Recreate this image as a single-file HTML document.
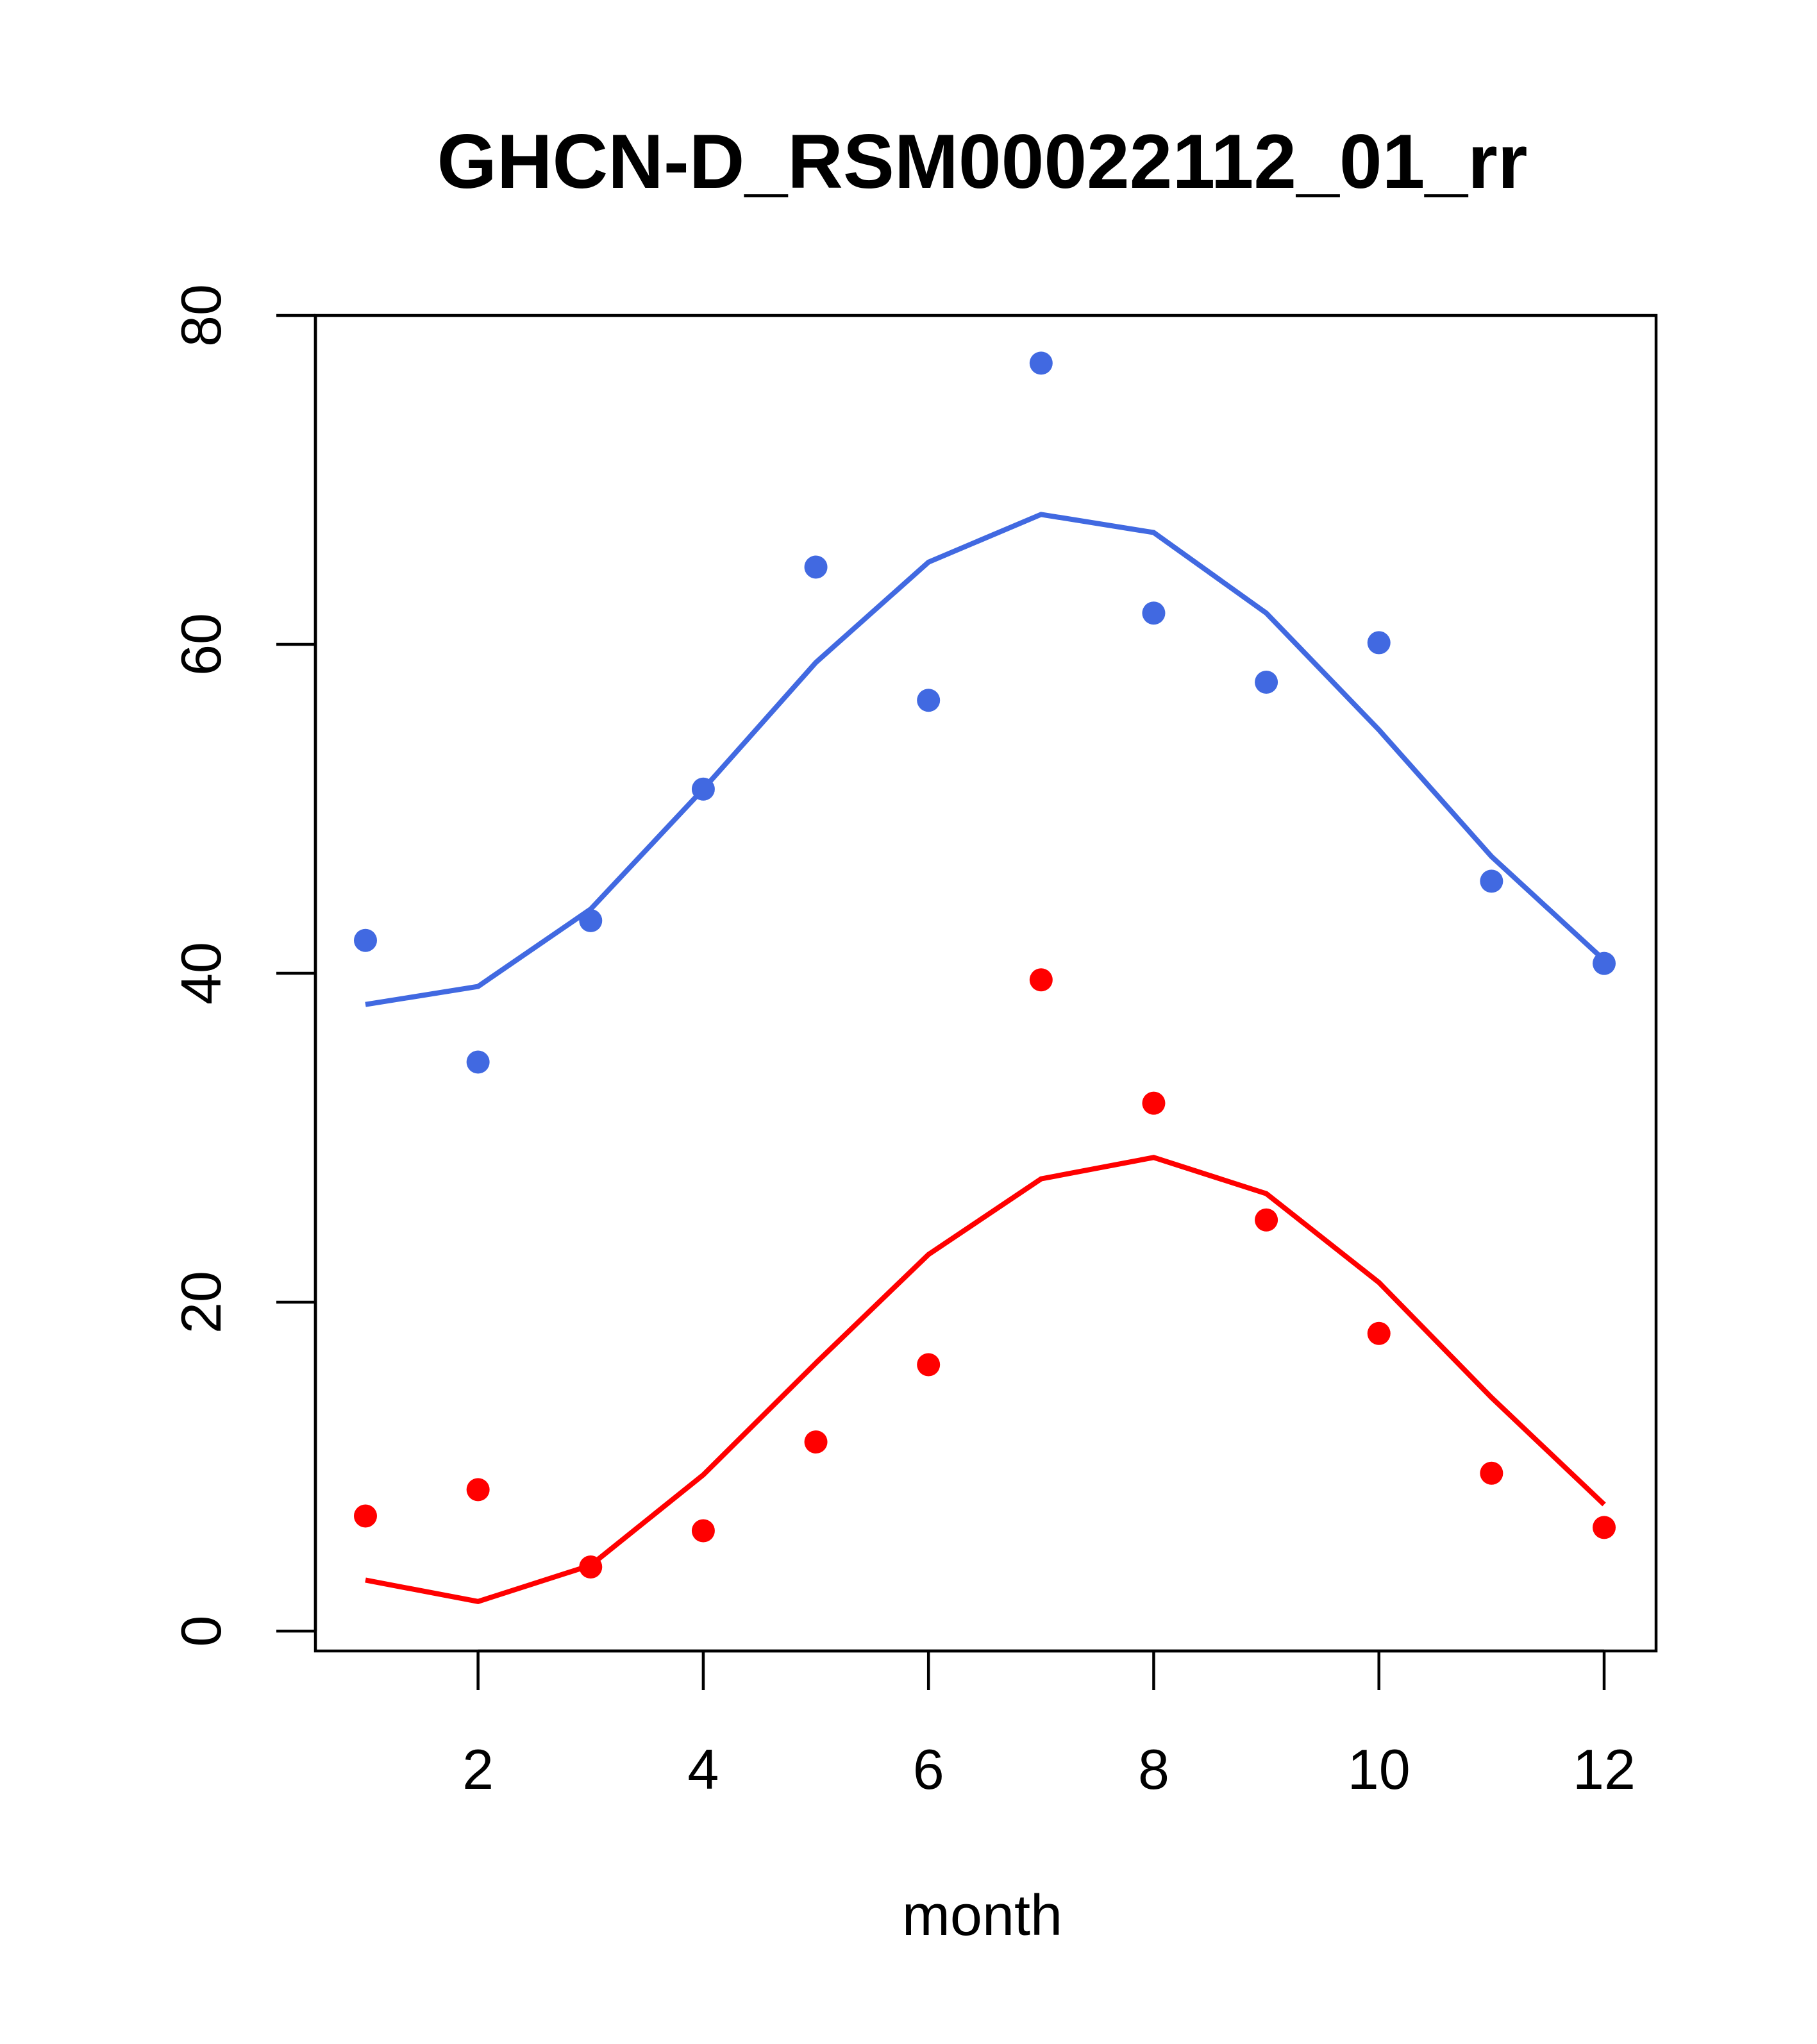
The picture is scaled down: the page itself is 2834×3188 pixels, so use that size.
<!DOCTYPE html>
<html><head><meta charset="utf-8"><style>
html,body{margin:0;padding:0;background:#fff;}
svg{display:block;font-family:"Liberation Sans",sans-serif;}
</style></head><body>
<svg id="chart" width="2834" height="3188" viewBox="0 0 2834 3188" xmlns="http://www.w3.org/2000/svg">
<rect width="2834" height="3188" fill="#fff"/>
<text x="1532" y="293" text-anchor="middle" font-size="120" font-weight="bold">GHCN-D_RSM00022112_01_rr</text>
<rect x="492" y="492" width="2091" height="2083" fill="none" stroke="#000" stroke-width="4.5"/>
<g id="axes"></g>
<g id="marks"></g>
<text x="1532" y="3018" text-anchor="middle" font-size="90">month</text>
</svg>
<script>
const months = [1,2,3,4,5,6,7,8,9,10,11,12];
const bluePoints = [42,34.6,43.2,51.2,64.7,56.6,77.1,61.9,57.7,60.1,45.6,40.6];
const blueLine = [38.1,39.2,43.9,51.2,58.9,65.0,67.9,66.8,61.9,54.8,47.1,40.8];
const redPoints = [7,8.6,3.9,6.1,11.5,16.2,39.6,32.1,25.0,18.1,9.6,6.3];
const redLine = [3.1,1.8,4.0,9.5,16.3,22.9,27.5,28.8,26.6,21.2,14.2,7.7];
const xTicks = [2,4,6,8,10,12];
const yTicks = [0,20,40,60,80];

const NS = "http://www.w3.org/2000/svg";
const xs = m => 570 + (m - 1) * (2502 - 570) / 11;
const ys = v => 2544 - v * (2544 - 492) / 80;
const axes = document.getElementById('axes');
const marks = document.getElementById('marks');
function mk(tag, attrs, parent){const e=document.createElementNS(NS,tag);for(const k in attrs)e.setAttribute(k,attrs[k]);parent.appendChild(e);return e;}

mk('line',{x1:492,x2:492,y1:ys(0),y2:ys(80),stroke:'#000','stroke-width':4.5},axes);
yTicks.forEach(v=>{
  const t=mk('line',{x1:431,x2:492,y1:ys(v),y2:ys(v),stroke:'#000','stroke-width':4.5},axes);
  
  
  const l=mk('text',{x:0,y:0,'font-size':88,'text-anchor':'middle',transform:`translate(344,${ys(v)}) rotate(-90)`},axes);
  l.textContent=v;
  
  
});
mk('line',{x1:xs(2),x2:xs(12),y1:2575,y2:2575,stroke:'#000','stroke-width':4.5},axes);
xTicks.forEach(m=>{
  const t=mk('line',{x1:xs(m),x2:xs(m),y1:2575,y2:2636,stroke:'#000','stroke-width':4.5},axes);
  
  
  const l=mk('text',{x:xs(m),y:2790,'font-size':88,'text-anchor':'middle'},axes);
  l.textContent=m;
  
  
});
function series(pts,line,color,name){
  const p=mk('polyline',{points:months.map((m,i)=>xs(m)+','+ys(line[i])).join(' '),fill:'none',stroke:color,'stroke-width':8},marks);
  
  
  months.forEach((m,i)=>{
    const c=mk('circle',{cx:xs(m),cy:ys(pts[i]),r:18,fill:color},marks);
    
    
  });
}
series(bluePoints,blueLine,'#4169E1','blue');
series(redPoints,redLine,'#FF0000','red');
</script>
</body></html>
